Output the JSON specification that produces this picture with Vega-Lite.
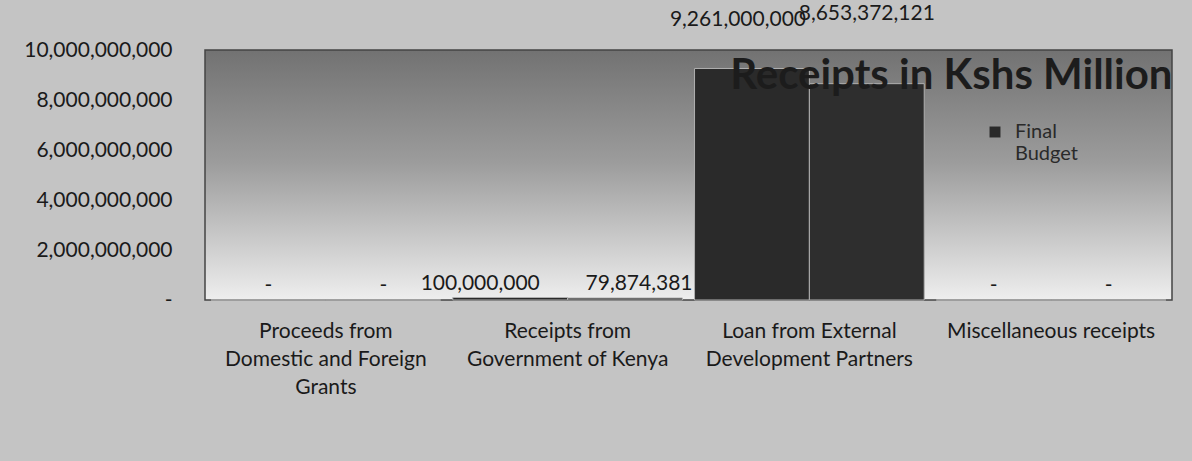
{
  "$schema": "https://vega.github.io/schema/vega-lite/v6.json",
  "autosize": "none",
  "width": 967,
  "height": 250,
  "padding": {"left": 205, "top": 50, "right": 20, "bottom": 161},
  "background": "#c4c4c4",
  "config": {
    "font": "Lato",
    "view": {
      "stroke": "#444444",
      "strokeWidth": 1.5,
      "fill": {
        "gradient": "linear",
        "x1": 0, "y1": 0, "x2": 0, "y2": 1,
        "stops": [
          {"offset": 0, "color": "#727272"},
          {"offset": 0.45, "color": "#9c9c9c"},
          {"offset": 1, "color": "#eeeeee"}
        ]
      }
    }
  },
  "data": {
    "values": [
      {"category": "Proceeds from Domestic and Foreign Grants", "series": "Final Budget", "value": 0},
      {"category": "Proceeds from Domestic and Foreign Grants", "series": "Actual", "value": 0},
      {"category": "Receipts from Government of Kenya", "series": "Final Budget", "value": 100000000},
      {"category": "Receipts from Government of Kenya", "series": "Actual", "value": 79874381},
      {"category": "Loan from External Development Partners", "series": "Final Budget", "value": 9261000000},
      {"category": "Loan from External Development Partners", "series": "Actual", "value": 8653372121},
      {"category": "Miscellaneous receipts", "series": "Final Budget", "value": 0},
      {"category": "Miscellaneous receipts", "series": "Actual", "value": 0}
    ]
  },
  "transform": [
    {"calculate": "datum.value == 0 ? '-' : format(datum.value, ',')", "as": "label"}
  ],
  "encoding": {
    "x": {
      "field": "category",
      "type": "nominal",
      "sort": null,
      "scale": {"paddingInner": 0.05, "paddingOuter": 0.025},
      "axis": {
        "title": null,
        "labelAngle": 0,
        "ticks": false,
        "domain": false,
        "labelPadding": 20,
        "labelFontSize": 21,
        "labelColor": "#1a1a1a",
        "labelLimit": 400,
        "labelLineHeight": 28,
        "labelBaseline": "top",
        "labelExpr": "datum.label == 'Proceeds from Domestic and Foreign Grants' ? ['Proceeds from', 'Domestic and Foreign', 'Grants'] : datum.label == 'Receipts from Government of Kenya' ? ['Receipts from', 'Government of Kenya'] : datum.label == 'Loan from External Development Partners' ? ['Loan from External', 'Development Partners'] : datum.label"
      }
    },
    "xOffset": {"field": "series", "type": "nominal", "sort": ["Final Budget", "Actual"], "scale": {"paddingInner": 0, "paddingOuter": 0}},
    "y": {
      "field": "value",
      "type": "quantitative",
      "scale": {"domain": [0, 10000000000]},
      "axis": {
        "zindex": 1,
        "title": "Receipts in Kshs Million",
        "titleAngle": 0,
        "titleX": 967,
        "titleY": 38,
        "titleAlign": "right",
        "titleBaseline": "alphabetic",
        "titleFont": "Lato",
        "titleFontSize": 42,
        "titleFontWeight": "bold",
        "titleColor": "#1c1c1c",
        "grid": false,
        "ticks": false,
        "domain": false,
        "values": [0, 2000000000, 4000000000, 6000000000, 8000000000, 10000000000],
        "labelPadding": 33,
        "labelFontSize": 21,
        "labelColor": "#1a1a1a",
        "labelExpr": "datum.value == 0 ? '-' : format(datum.value, ',')"
      }
    }
  },
  "layer": [
    {
      "mark": {"type": "bar", "stroke": "#b0b0b0", "strokeWidth": 1},
      "encoding": {
        "color": {
          "field": "series",
          "type": "nominal",
          "sort": ["Final Budget", "Actual"],
          "scale": {"domain": ["Final Budget", "Actual"], "range": ["#2a2a2a", "#2e2e2e"]},
          "legend": {
            "title": null,
            "values": ["Final Budget"],
            "orient": "none",
            "legendX": 780,
            "legendY": 72,
            "symbolType": "square",
            "symbolSize": 120,
            "symbolStrokeWidth": 0,
            "labelFontSize": 20,
            "labelColor": "#2a2a2a",
            "labelLineHeight": 28,
            "labelBaseline": "middle",
            "labelOffset": 10,
            "labelExpr": "['Final', 'Budget']"
          }
        }
      }
    },
    {
      "mark": {
        "type": "text",
        "baseline": "bottom",
        "dy": {"expr": "datum.value > 9000000000 ? -38 : datum.value > 1000000000 ? -60 : -4"},
        "dx": {"expr": "datum.value > 9000000000 ? -14 : datum.value == 100000000 ? -30 : datum.value > 0 && datum.value < 100000000 ? 14 : 0"},
        "fontSize": 21,
        "color": "#1a1a1a"
      },
      "encoding": {
        "text": {"field": "label"}
      }
    }
  ]
}
